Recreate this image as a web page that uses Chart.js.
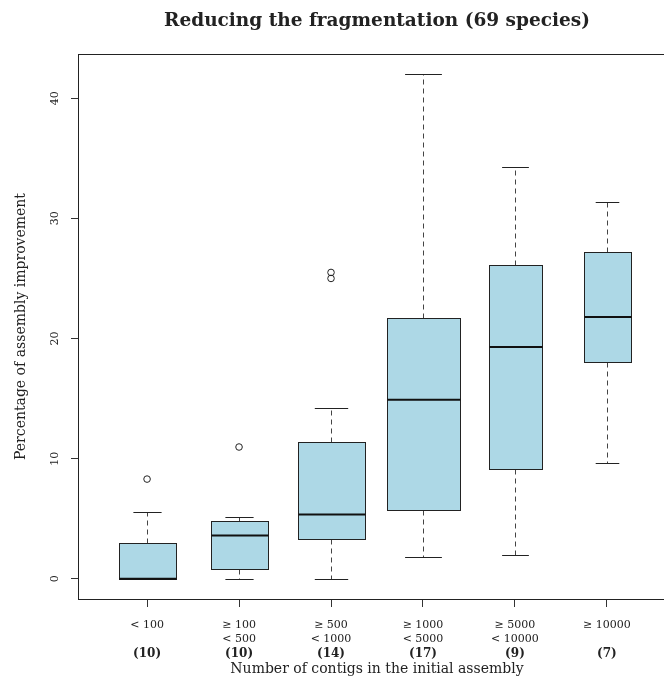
<!DOCTYPE html>
<html><head><meta charset="utf-8">
<script src="https://cdn.jsdelivr.net/npm/chart.js@4"></script>
<style>html,body{margin:0;padding:0;background:#fff;overflow:hidden;} #wrap{width:700px;height:681px;}</style>
</head><body>
<div id="wrap"><canvas id="c" width="700" height="681"></canvas></div>
<script>
// ---- data ----
const categories = [['< 100'], ['\u2265 100', '< 500'], ['\u2265 500', '< 1000'], ['\u2265 1000', '< 5000'], ['\u2265 5000', '< 10000'], ['\u2265 10000']];
const counts = [10, 10, 14, 17, 9, 7];
const whiskerLow = [0, 0, 0, 1.85, 2.0, 9.65];
const q1 = [0, 0.85, 3.33, 5.7, 9.15, 18.05];
const median = [0, 3.6, 5.35, 14.9, 19.3, 21.8];
const q3 = [3.0, 4.8, 11.4, 21.7, 26.1, 27.2];
const whiskerHigh = [5.55, 5.18, 14.2, 42.0, 34.3, 31.33];
const outliers = [[8.3], [10.97], [25.0, 25.5], [], [], []];
const xPositions = [1, 2, 3, 4, 5, 6];
const yTicks = [0, 10, 20, 30, 40];
const titleText = 'Reducing the fragmentation (69 species)';
const xTitle = 'Number of contigs in the initial assembly';
const yTitle = 'Percentage of assembly improvement';

Chart.defaults.font.family = "'DejaVu Serif', serif";
Chart.defaults.color = '#222';

const X_MIN = 0.26, X_MAX = 6.74, Y_MIN = -1.68, Y_MAX = 43.68;

function seg(ctx, x1, y1, x2, y2) { ctx.beginPath(); ctx.moveTo(x1, y1); ctx.lineTo(x2, y2); ctx.stroke(); }

const boxPlugin = {
  id: 'boxes',
  beforeDatasetsDraw(chart) {
    const {ctx, chartArea: a, scales: {x, y}} = chart;
    const maxN = Math.max(...counts);
    ctx.save();
    ctx.beginPath(); ctx.rect(a.left, a.top, a.width, a.height); ctx.clip();
    for (let i = 0; i < categories.length; i++) {
      const cx = Math.round(x.getPixelForValue(xPositions[i])) + 0.5;
      const hw = x.getPixelForValue(xPositions[i] + 0.4 * Math.sqrt(counts[i] / maxN)) - x.getPixelForValue(xPositions[i]);
      const yLo = Math.round(y.getPixelForValue(whiskerLow[i])) + 0.5;
      const yHi = Math.round(y.getPixelForValue(whiskerHigh[i])) + 0.5;
      const yQ1 = Math.round(y.getPixelForValue(q1[i])) + 0.5;
      const yQ3 = Math.round(y.getPixelForValue(q3[i])) + 0.5;
      const yMed = y.getPixelForValue(median[i]);
      ctx.lineWidth = 1;
      ctx.strokeStyle = '#444';
      ctx.setLineDash([5, 4]);
      if (yHi < yQ3) seg(ctx, cx, yQ3, cx, yHi);
      if (yLo > yQ1) seg(ctx, cx, yQ1, cx, yLo);
      ctx.setLineDash([]);
      ctx.strokeStyle = '#222';
      seg(ctx, cx - hw / 2, yHi, cx + hw / 2, yHi);
      seg(ctx, cx - hw / 2, yLo, cx + hw / 2, yLo);
      const l = Math.round(cx - hw) + 0.5, r = Math.round(cx + hw) + 0.5;
      ctx.fillStyle = '#add8e6';
      ctx.fillRect(l, yQ3, r - l, yQ1 - yQ3);
      ctx.strokeRect(l, yQ3, r - l, yQ1 - yQ3);
      ctx.lineWidth = 2;
      ctx.strokeStyle = '#111';
      seg(ctx, l, yMed, r, yMed);
    }
    ctx.restore();
  },
  afterDraw(chart) {
    const {ctx, chartArea: a} = chart;
    ctx.save();
    ctx.strokeStyle = '#222'; ctx.lineWidth = 1;
    ctx.strokeRect(Math.round(a.left) - 0.5, Math.round(a.top) + 0.5, Math.round(a.right - a.left) + 1, Math.round(a.bottom - a.top));
    ctx.restore();
  }
};

const outlierData = outliers.flatMap((arr, i) => arr.map(v => ({x: xPositions[i], y: v})));

new Chart(document.getElementById('c'), {
  type: 'scatter',
  data: {
    datasets: [{
      data: outlierData,
      pointStyle: 'circle',
      pointRadius: 3.3,
      borderColor: '#222',
      borderWidth: 1,
      backgroundColor: 'rgba(0,0,0,0)'
    }]
  },
  options: {
    responsive: false,
    animation: false,
    events: [],
    layout: {padding: {left: 0, right: 25, top: 0, bottom: 0}},
    plugins: {
      legend: {display: false},
      tooltip: {enabled: false},
      title: {
        display: true, text: titleText, fullSize: false, color: '#222',
        font: {size: 18.5, weight: 'bold', lineHeight: 1.2},
        padding: {top: 9.9, bottom: 21.9}
      }
    },
    scales: {
      x: {
        type: 'linear', position: 'bottom', min: X_MIN, max: X_MAX, weight: 0,
        afterBuildTicks: s => { s.ticks = xPositions.map(v => ({value: v})); },
        afterFit: s => { s.height = 48; },
        grid: {display: true, drawOnChartArea: false, drawTicks: true, tickLength: 8, tickColor: '#333'},
        border: {display: false},
        ticks: {autoSkip: false, minRotation: 0, maxRotation: 0, padding: 11, color: '#222',
                font: {size: 11, lineHeight: 1.27}, callback: (v, i) => categories[i]}
      },
      x2: {
        type: 'linear', position: 'bottom', min: X_MIN, max: X_MAX, weight: 1,
        afterBuildTicks: s => { s.ticks = xPositions.map(v => ({value: v})); },
        afterFit: s => { s.height = 34; },
        grid: {display: false, drawTicks: false},
        border: {display: false},
        ticks: {autoSkip: false, minRotation: 0, maxRotation: 0, padding: 0, color: '#222',
                font: {size: 12, weight: 'bold', lineHeight: 1.2}, callback: (v, i) => '(' + counts[i] + ')'},
        title: {display: true, text: xTitle, color: '#222', font: {size: 14, lineHeight: 1.2}, padding: {top: 0, bottom: 3.6}}
      },
      y: {
        type: 'linear', position: 'left', min: Y_MIN, max: Y_MAX,
        afterBuildTicks: s => { s.ticks = yTicks.map(v => ({value: v})); },
        afterFit: s => { s.width = 79; },
        grid: {display: true, drawOnChartArea: false, drawTicks: true, tickLength: 8, tickColor: '#333'},
        border: {display: false},
        ticks: {minRotation: 90, maxRotation: 90, crossAlign: 'center', padding: 9, color: '#222', font: {size: 11}},
        title: {display: true, text: yTitle, color: '#222', font: {size: 14, lineHeight: 1.2}, padding: {top: 12.6, bottom: 0}}
      }
    }
  },
  plugins: [boxPlugin]
});
</script>
</body></html>
